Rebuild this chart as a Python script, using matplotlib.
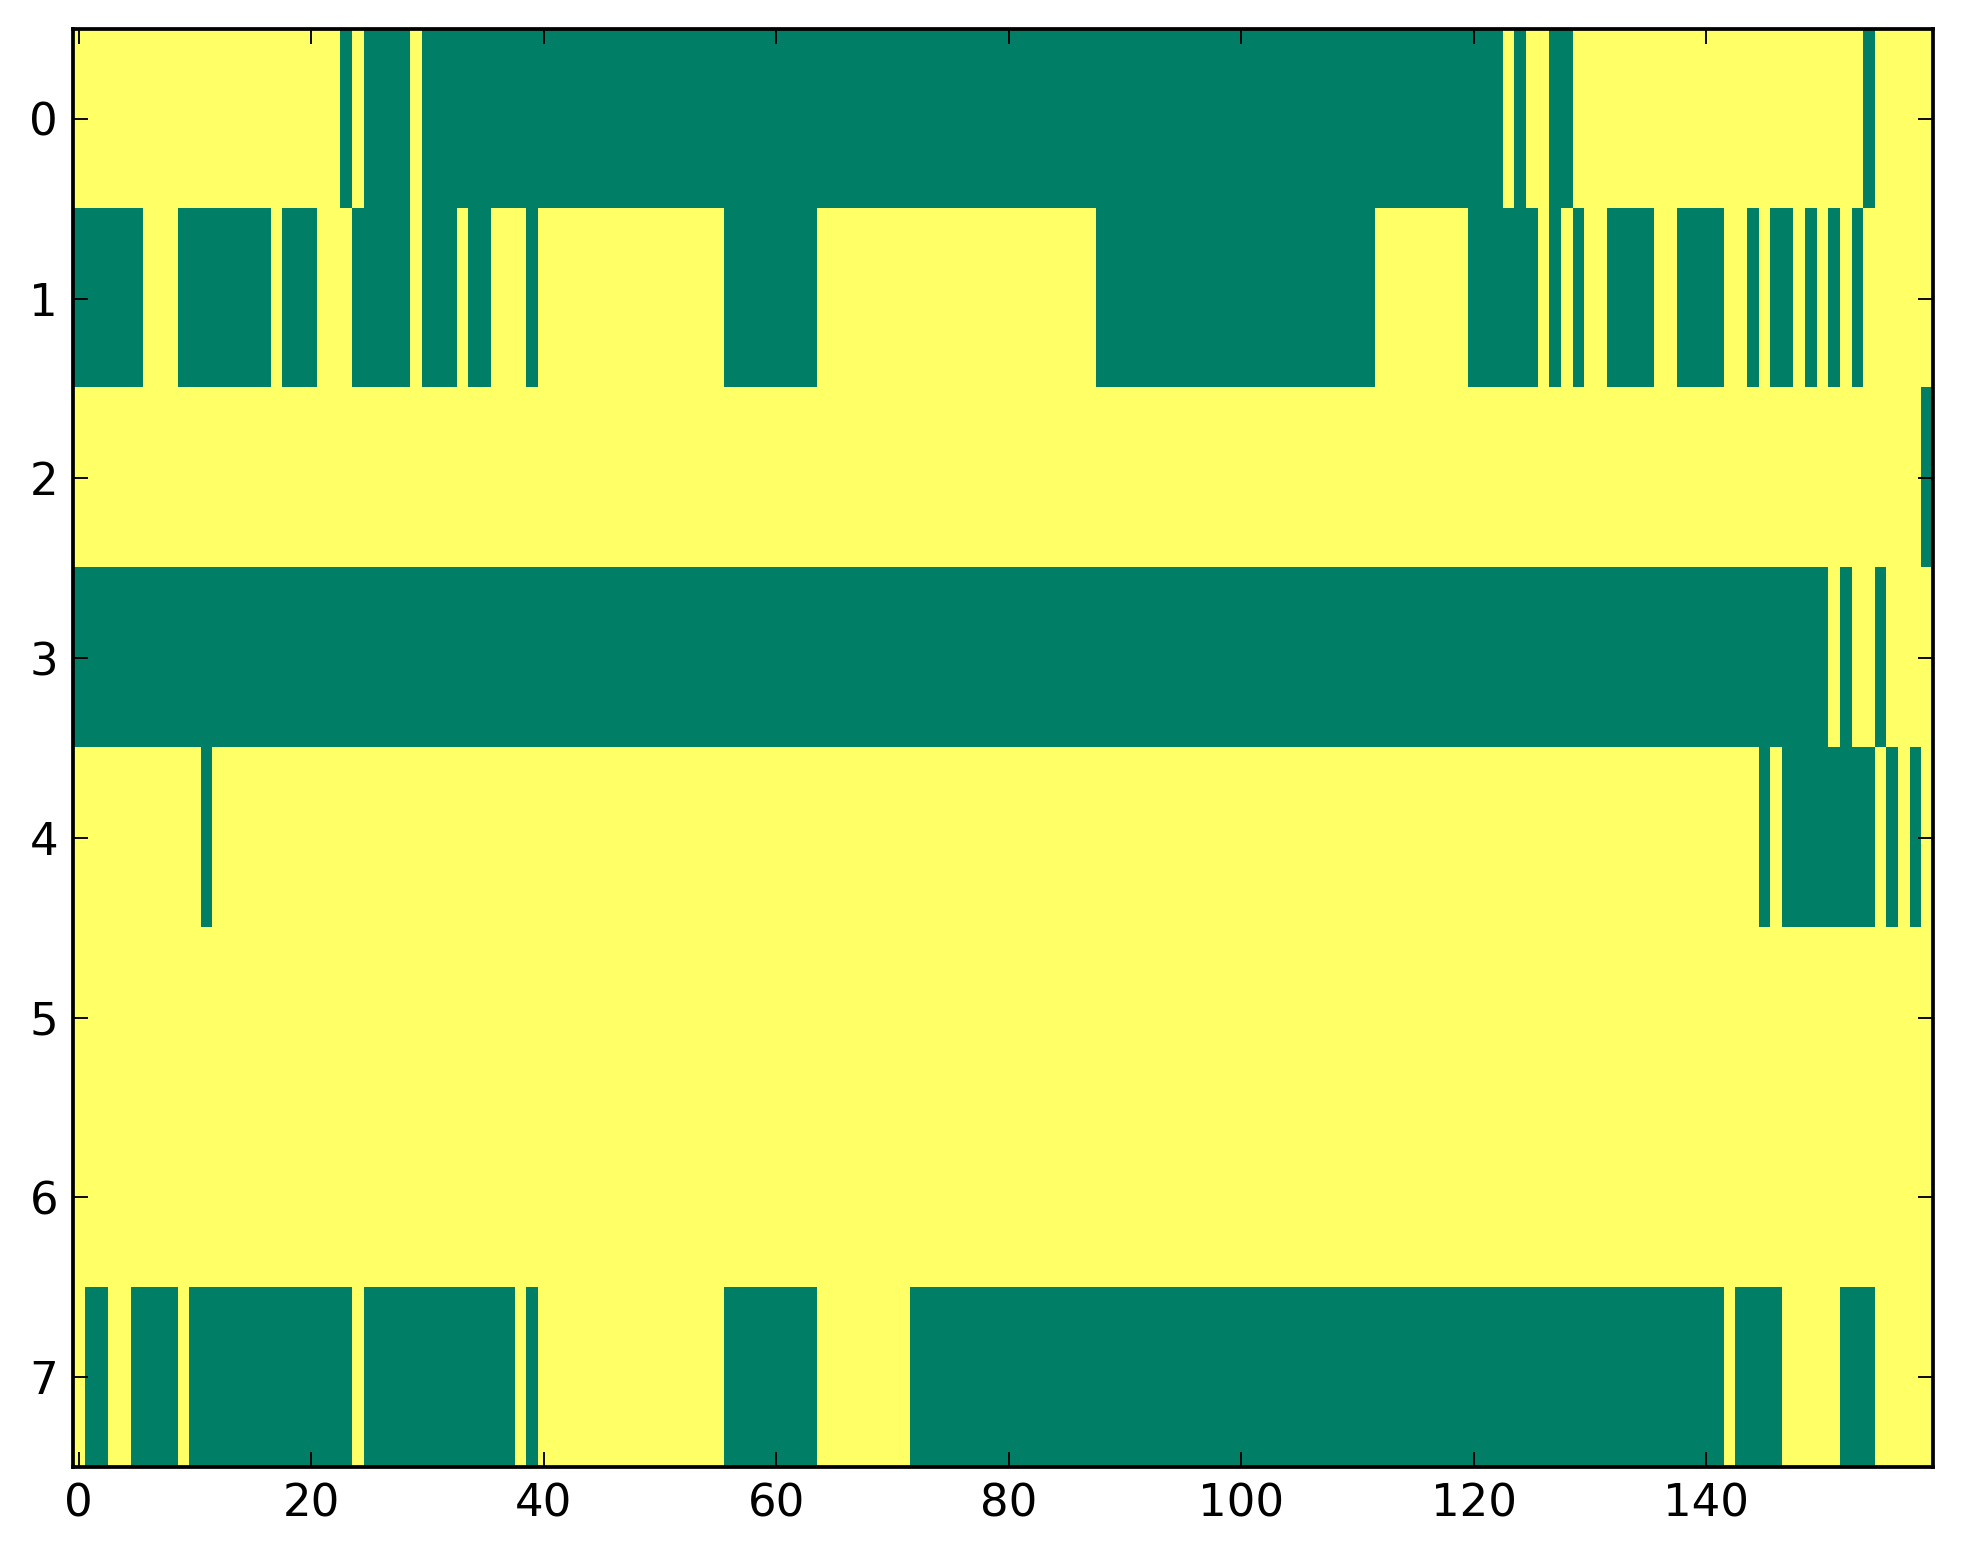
import numpy as np
import matplotlib
matplotlib.use("Agg")
import matplotlib.pyplot as plt

n_cols = 160
row_labels = [0, 1, 2, 3, 4, 5, 6, 7]

# green (value 0) runs per row, inclusive column ranges; the rest is 1 (yellow)
row0_green = [(23, 23), (25, 28), (30, 122), (124, 124), (127, 128), (154, 154)]
row1_green = [(0, 5), (9, 16), (18, 20), (24, 28), (30, 32), (34, 35), (39, 39),
              (56, 63), (88, 111), (120, 125), (127, 127), (129, 129), (132, 135),
              (138, 141), (144, 144), (146, 147), (149, 149), (151, 151), (153, 153)]
row2_green = [(159, 159)]
row3_green = [(0, 150), (152, 152), (155, 155)]
row4_green = [(11, 11), (145, 145), (147, 154), (156, 156), (158, 158)]
row5_green = []
row6_green = []
row7_green = [(1, 2), (5, 8), (10, 23), (25, 37), (39, 39), (56, 63), (72, 141),
              (143, 146), (152, 154)]

rows = [row0_green, row1_green, row2_green, row3_green,
        row4_green, row5_green, row6_green, row7_green]

grid = np.ones((len(rows), n_cols))
for r, runs in enumerate(rows):
    for a, b in runs:
        grid[r, a:b + 1] = 0

s = 2.7  # scale from classic point sizes

fig = plt.figure(figsize=(19.63, 15.64), dpi=100)
ax = fig.add_axes([0.0372, 0.062, 0.9475, 0.9195])
ax.imshow(grid, cmap="summer", aspect="auto", interpolation="nearest", vmin=0, vmax=1)

ax.set_yticks(row_labels)
ax.set_xticks(np.arange(0, 141, 20))
ax.tick_params(direction="in", length=4 * s, width=0.5 * s, pad=4 * s,
               labelsize=12 * s, top=True, right=True)
for sp in ax.spines.values():
    sp.set_linewidth(1 * s)

fig.savefig("out.png", dpi=100)
